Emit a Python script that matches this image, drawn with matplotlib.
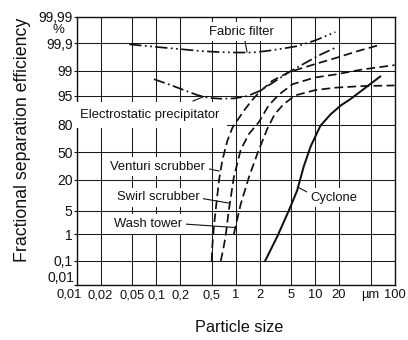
import numpy as np
import matplotlib
matplotlib.use("Agg")
import matplotlib.pyplot as plt
from matplotlib.lines import Line2D
from matplotlib.ticker import FixedLocator, FixedFormatter, NullLocator
from statistics import NormalDist

plt.rcParams['font.family'] = ['Liberation Sans', 'DejaVu Sans']

# ---------------- data ----------------
x_ticks = [0.01, 0.02, 0.05, 0.1, 0.2, 0.5, 1, 2, 5, 10, 20, 50, 100]
x_labels = ['', '0,02', '0,05', '0,1', '0,2', '0,5', '1', '2', '5', '10', '20', 'µm', '100']
y_ticks = [0.01, 0.1, 1, 5, 20, 50, 80, 95, 99, 99.9, 99.99]
y_labels = ['', '0,1', '1', '5', '20', '50', '80', '95', '99', '99,9', '99,99']

fabric_x = [0.046, 0.1, 0.2, 0.35, 0.6, 1.0, 1.6, 2.5, 4.0, 6.0, 10, 18]
fabric_y = [99.89, 99.86, 99.83, 99.80, 99.78, 99.77, 99.77, 99.80, 99.84, 99.87, 99.92, 99.96]

esp_x = [0.094, 0.15, 0.225, 0.33, 0.45, 0.65, 0.95, 1.4, 2.0, 3.0, 4.7, 7.5, 11, 18]
esp_y = [98.2, 97.4, 96.4, 95.2, 94.4, 94.1, 94.2, 94.9, 96.2, 97.8, 98.9, 99.45, 99.7, 99.85]

venturi_x = [0.5, 0.51, 0.53, 0.56, 0.62, 0.68, 0.79, 0.91, 1.05, 1.27, 1.6, 2.0, 2.9, 4.7, 10, 18, 35, 63]
venturi_y = [0.1, 0.4, 1.5, 5, 20, 40, 64, 77, 83, 89, 93.5, 96, 98.0, 98.9, 99.4, 99.63, 99.8, 99.88]

swirl_x = [0.65, 0.7, 0.75, 0.82, 0.95, 1.16, 1.47, 1.97, 2.6, 3.5, 5.2, 10, 18, 40, 100]
swirl_y = [0.1, 0.3, 0.9, 5, 22, 53, 71, 82, 91.5, 95.3, 97.5, 98.4, 98.7, 99.1, 99.35]

wash_x = [0.95, 1.05, 1.16, 1.47, 1.89, 2.5, 3.1, 4.0, 5.6, 10, 18, 40, 100]
wash_y = [1, 3, 7, 22, 49, 76, 87, 92, 95.1, 96.4, 96.9, 97.2, 97.3]

cyclone_x = [2.35, 3.35, 4.67, 5.95, 7.2, 8.8, 11.7, 15.7, 21, 28, 45, 66]
cyclone_y = [0.1, 0.85, 5, 13, 33, 57, 79, 87, 91.5, 94, 97.1, 98.5]

# ---------------- probability scale ----------------
W, H = 408, 340
# pixel rows of the y ticks in the reference (layout of the paper scale)
tick_rows = np.array([285, 261, 234.3, 210.7, 179.5, 152.3, 124.5, 95.8, 70.8, 43.3, 16.5])
POS = 285 - tick_rows

_nd = NormalDist()
_probit_v = np.vectorize(lambda v: _nd.inv_cdf(v / 100.0), otypes=[float])
_cdf_v = np.vectorize(lambda v: _nd.cdf(v) * 100.0, otypes=[float])


def probit(p):
    p = np.clip(np.asarray(p, float), 1e-7, 100 - 1e-7)
    return _probit_v(p)


Z_T = probit(y_ticks)


def fwd(p):
    return np.interp(probit(p), Z_T, POS)


def inv(u):
    return _cdf_v(np.interp(np.asarray(u, float), POS, Z_T))


# ---------------- figure ----------------
fig = plt.figure(figsize=(W / 100, H / 100), dpi=100)
left, right, top, bottom = 76.7, 394.5, 16.5, 285
ax = fig.add_axes([left / W, 1 - bottom / H, (right - left) / W, (bottom - top) / H])

ax.set_xscale('log')
ax.set_yscale('function', functions=(fwd, inv))
ax.set_xlim(0.01, 100)
ax.set_ylim(0.01, 99.99)

ax.xaxis.set_major_locator(FixedLocator(x_ticks))
ax.xaxis.set_major_formatter(FixedFormatter(x_labels))
ax.xaxis.set_minor_locator(NullLocator())
ax.yaxis.set_major_locator(FixedLocator(y_ticks))
ax.yaxis.set_major_formatter(FixedFormatter(y_labels))
ax.yaxis.set_minor_locator(NullLocator())

ax.tick_params(axis='x', length=0, pad=3, labelsize=9.3, colors='#111')
ax.tick_params(axis='y', length=2.5, width=0.8, pad=0.5, labelsize=10, colors='#111')
ax.grid(True, color='#1a1a1a', lw=0.75)
ax.set_axisbelow(True)
for s in ax.spines.values():
    s.set_linewidth(1.0)
    s.set_color('#111')

c = '#111'
ax.plot(fabric_x, fabric_y, color=c, lw=1.25, ls=(0, (7, 2, 1, 2, 1, 2)))
ax.plot(esp_x, esp_y, color=c, lw=1.25, ls=(0, (6.5, 2, 1, 2)))
ax.plot(venturi_x, venturi_y, color=c, lw=1.25, ls=(0, (5, 2.5)))
ax.plot(swirl_x, swirl_y, color=c, lw=1.25, ls=(0, (5, 2.5)))
ax.plot(wash_x, wash_y, color=c, lw=1.25, ls=(0, (5, 2.5)))
ax.plot(cyclone_x, cyclone_y, color=c, lw=1.45, ls='-')


def fp(x, y):
    return x / W, 1 - y / H


# extra axis texts (shifted to avoid crowding at the corner)
fig.text(*fp(74, 278), '0,01', ha='right', va='center', fontsize=10, color='#111')
fig.text(*fp(69, 294.5), '0,01', ha='center', va='center', fontsize=9.3, color='#111')
fig.text(*fp(58, 30), '%', ha='center', va='center', fontsize=9.5, color='#111')

# curve labels
box = dict(facecolor='white', edgecolor='none', pad=2.5)
fs = 9.4
fig.text(*fp(241, 31.7), 'Fabric filter', ha='center', va='center', fontsize=fs, bbox=box, color='#111')
fig.text(*fp(150, 115), 'Electrostatic precipitator', ha='center', va='center', fontsize=fs,
         bbox=dict(facecolor='white', edgecolor='none', pad=5), color='#111')
fig.text(*fp(205, 166.7), 'Venturi scrubber', ha='right', va='center', fontsize=fs, bbox=box, color='#111')
fig.text(*fp(199.5, 197.3), 'Swirl scrubber', ha='right', va='center', fontsize=fs, bbox=box, color='#111')
fig.text(*fp(182, 224), 'Wash tower', ha='right', va='center', fontsize=fs, bbox=box, color='#111')
fig.text(*fp(310.5, 197.7), 'Cyclone', ha='left', va='center', fontsize=fs, bbox=box, color='#111')

leaders = [((245, 41), (247, 52)),
           ((193, 101), (204, 96.5)),
           ((207, 168.5), (219, 171)),
           ((201, 198.3), (228.5, 203)),
           ((184, 224), (235, 227.5)),
           ((308, 192.5), (299.5, 188))]
for (x0, y0), (x1, y1) in leaders:
    a, b = fp(x0, y0)
    cc, d = fp(x1, y1)
    fig.add_artist(Line2D([a, cc], [b, d], transform=fig.transFigure, color='#111', lw=0.8))

# axis titles
fig.text(*fp(23, 140), 'Fractional separation efficiency', rotation=90, ha='center', va='center',
         fontsize=12.8, color='#111')
fig.text(*fp(239, 328), 'Particle size', ha='center', va='center', fontsize=11.7, color='#111')

fig.savefig('out.png', dpi=100, facecolor='white')
